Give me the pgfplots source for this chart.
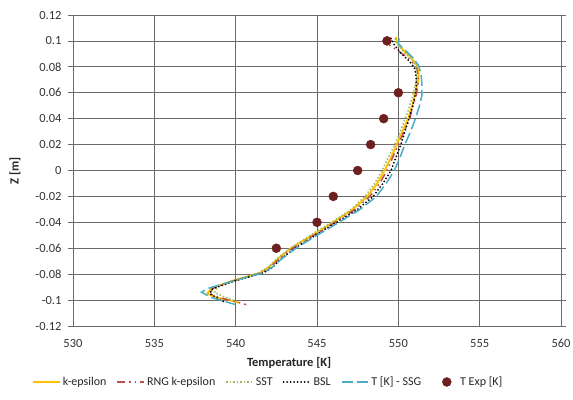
\documentclass[border=0pt]{standalone}
\usepackage{fontspec}
\setmainfont{Carlito}
\usepackage{pgfplots}
\pgfplotsset{compat=1.18}

\definecolor{keps}{HTML}{FFC000}
\definecolor{rng}{HTML}{C0504D}
\definecolor{sst}{HTML}{9BBB59}
\definecolor{ssg}{HTML}{4BACC6}
\definecolor{texp}{HTML}{6E1F1F}
\definecolor{gridc}{HTML}{6A6A6A}

\begin{document}
\begin{tikzpicture}
\begin{axis}[
    name=ax,
    scale only axis,
    width=488pt, height=311pt,
    xmin=530, xmax=560, ymin=-0.12, ymax=0.12,
    xtick={530,535,...,560},
    ytick={-0.12,-0.1,...,0.121},
    grid=major,
    grid style={gridc, line width=0.8pt},
    axis line style={gridc, line width=0.8pt},
    xtick style={draw=none},
    ytick style={gridc, line width=0.8pt},
    tick align=outside,
    major tick length=5pt,
    xticklabel style={yshift=-5pt},
    yticklabel style={xshift=-3pt, /pgf/number format/fixed, /pgf/number format/precision=2},
    /pgf/number format/assume math mode=true,
    ticklabel style={font=\fontsize{12.5}{14}\selectfont, text=black!80},
    xlabel={\textbf{Temperature [K]}},
    ylabel={\textbf{Z [m]}},
    label style={font=\fontsize{12.5}{14}\selectfont, text=black!85},
    xlabel style={at={(axis description cs:0.443,-0.09)}, anchor=north},
    ylabel style={at={(axis description cs:-0.119,0.5)}, anchor=center},
    legend columns=6,
    legend style={draw=none, at={(axis description cs:0.40,-0.18)}, anchor=center,
        font=\fontsize{12}{14}\selectfont, text=black!85,
        /tikz/every even column/.append style={column sep=8pt}},
    legend image code/.code={\draw[#1] (0cm,0cm) -- (0.95cm,0cm);},
]
\addplot[keps, line width=1.8pt] table {
549.85 0.103
549.95 0.098
550.3 0.093
550.8 0.087
551.15 0.081
551.25 0.075
551.2 0.068
551.05 0.06
550.85 0.05
550.6 0.04
550.25 0.03
549.9 0.02
549.55 0.01
549.15 0.0
548.7 -0.01
548.1 -0.02
547.2 -0.03
546.0 -0.04
544.7 -0.05
543.4 -0.06
542.6 -0.068
542.0 -0.075
541.5 -0.079
539.8 -0.085
538.5 -0.091
538.25 -0.095
538.8 -0.098
539.6 -0.1
540.2 -0.102
};
\addlegendentry{k-epsilon}
\addplot[rng, line width=1.5pt, dash pattern=on 8pt off 4pt on 1.5pt off 4pt on 1.5pt off 4pt] table {
549.35 0.1035
549.15 0.101
549.3 0.098
549.9 0.093
550.6 0.087
551.1 0.08
551.25 0.072
551.2 0.065
551.1 0.058
550.9 0.05
550.7 0.04
550.35 0.03
550.0 0.02
549.65 0.01
549.3 0.0
548.85 -0.01
548.25 -0.02
547.35 -0.03
546.1 -0.04
544.8 -0.05
543.5 -0.06
542.7 -0.068
542.1 -0.075
541.6 -0.079
539.9 -0.085
538.6 -0.091
538.4 -0.095
539.0 -0.098
539.9 -0.101
540.65 -0.1035
};
\addlegendentry{RNG k-epsilon}
\addplot[sst, line width=1.5pt, dash pattern=on 1.5pt off 2pt] table {
549.8 0.102
549.9 0.098
550.3 0.092
550.8 0.086
551.1 0.08
551.15 0.072
551.0 0.064
550.85 0.056
550.6 0.046
550.3 0.036
550.0 0.026
549.7 0.018
549.3 0.008
549.0 0.0
548.55 -0.01
547.95 -0.02
547.1 -0.03
545.9 -0.04
544.6 -0.05
543.35 -0.06
542.55 -0.068
541.95 -0.075
541.4 -0.079
539.9 -0.085
538.9 -0.09
538.7 -0.094
539.2 -0.097
539.8 -0.1
540.1 -0.101
};
\addlegendentry{SST}
\addplot[black, line width=2pt, line cap=round, dash pattern=on 0pt off 3.5pt] table {
549.55 0.102
549.75 0.097
550.2 0.09
550.7 0.084
551.0 0.079
551.1 0.072
551.1 0.064
551.0 0.056
550.85 0.048
550.65 0.04
550.4 0.03
550.15 0.02
549.85 0.01
549.55 0.0
549.05 -0.01
548.45 -0.02
547.5 -0.03
546.2 -0.04
544.9 -0.05
543.65 -0.06
542.8 -0.068
542.25 -0.075
541.7 -0.079
540.0 -0.085
538.6 -0.091
538.4 -0.095
538.8 -0.098
539.3 -0.1015
};
\addlegendentry{BSL}
\addplot[ssg, line width=1.5pt, dash pattern=on 11pt off 4pt] table {
550.05 0.102
550.0 0.098
550.4 0.093
550.9 0.087
551.25 0.081
551.4 0.074
551.45 0.066
551.45 0.058
551.3 0.05
551.05 0.04
550.75 0.03
550.4 0.02
550.1 0.01
549.75 0.0
549.25 -0.01
548.65 -0.02
547.65 -0.03
546.35 -0.04
545.0 -0.05
543.7 -0.06
542.85 -0.068
542.2 -0.075
541.7 -0.079
539.9 -0.085
538.3 -0.091
537.9 -0.094
538.5 -0.098
539.3 -0.101
540.0 -0.1035
};
\addlegendentry{T [K] - SSG}
\addplot[only marks, mark=*, mark size=4.5pt, texp, mark options={draw=texp, fill=texp},
    legend image code/.code={\path[draw=none, fill=none] (0cm,0cm) -- (0.95cm,0cm); \fill[texp] (0.55cm,0cm) circle (4.5pt);}] table {
549.3 0.1
550.0 0.06
549.1 0.04
548.3 0.02
547.5 0.0
546.0 -0.02
545.0 -0.04
542.5 -0.06
};
\addlegendentry{T Exp [K]}
\end{axis}
\pgfresetboundingbox
\path[use as bounding box] ([xshift=-73pt,yshift=-74pt]ax.south west) rectangle ([xshift=12pt,yshift=15pt]ax.north east);
\end{tikzpicture}
\end{document}
